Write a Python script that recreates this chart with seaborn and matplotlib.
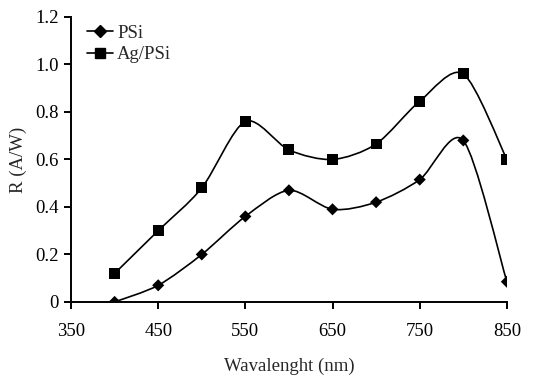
import numpy as np
import pandas as pd
import matplotlib
matplotlib.use("Agg")
import matplotlib.pyplot as plt
from matplotlib.path import Path
from matplotlib.patches import PathPatch
from matplotlib.lines import Line2D
import seaborn as sns

# data
wavelength = [400, 450, 500, 550, 600, 650, 700, 750, 800, 850]
psi = [0.0, 0.07, 0.20, 0.36, 0.47, 0.39, 0.42, 0.515, 0.68, 0.085]
ag_psi = [0.12, 0.30, 0.48, 0.76, 0.64, 0.60, 0.665, 0.845, 0.96, 0.60]
x_ticks = [350, 450, 550, 650, 750, 850]
y_ticks = [0, 0.2, 0.4, 0.6, 0.8, 1.0, 1.2]
y_labels = ["0", "0.2", "0.4", "0.6", "0.8", "1.0", "1.2"]

sns.set_style("ticks")
plt.rcParams["font.family"] = ["Liberation Serif", "DejaVu Serif"]
plt.rcParams["font.size"] = 13.5


def smooth_path(xs, ys, k=6.0):
    # Excel-style smoothed line: cubic bezier between points, catmull-rom control points
    pts = np.column_stack([xs, ys]).astype(float)
    n = len(pts)
    verts = [pts[0]]
    codes = [Path.MOVETO]
    for i in range(n - 1):
        p0 = pts[i - 1] if i > 0 else pts[i]
        p1 = pts[i]
        p2 = pts[i + 1]
        p3 = pts[i + 2] if i + 2 < n else pts[i + 1]
        c1 = p1 + (p2 - p0) / k
        c2 = p2 - (p3 - p1) / k
        verts += [c1, c2, p2]
        codes += [Path.CURVE4] * 3
    return Path(verts, codes)


df = pd.DataFrame({
    "wavelength": wavelength * 2,
    "R": psi + ag_psi,
    "series": ["PSi"] * len(psi) + ["Ag/PSi"] * len(ag_psi),
})

fig = plt.figure(figsize=(5.57, 3.76), dpi=100)
ax = fig.add_axes([0.1275, 0.197, 0.7825, 0.758])

for vals in (psi, ag_psi):
    ax.add_patch(PathPatch(smooth_path(wavelength, vals, 7.0), facecolor="none",
                           edgecolor="black", lw=1.2, zorder=2))

sns.scatterplot(data=df, x="wavelength", y="R", style="series",
                markers={"PSi": "D", "Ag/PSi": "s"},
                size="series", sizes={"PSi": 38, "Ag/PSi": 62},
                color="black", edgecolor="black", linewidth=0,
                legend=False, ax=ax, zorder=3)

ax.set_xlim(350, 850)
ax.set_ylim(0, 1.2)
ax.set_xticks(x_ticks)
ax.set_yticks(y_ticks)
ax.set_yticklabels(y_labels)
ax.set_xlabel("Wavalenght (nm)", labelpad=13)
ax.set_ylabel("R (A/W)", labelpad=6)
sns.despine(ax=ax)
for s in ("left", "bottom"):
    ax.spines[s].set_linewidth(1.4)
    ax.spines[s].set_color("black")
    ax.spines[s].set_clip_on(False)
ax.tick_params(direction="out", length=5, width=1.4, colors="black", pad=4)
ax.tick_params(axis="x", pad=10)

handles = [
    Line2D([], [], color="black", lw=1.2, marker="D", markersize=6),
    Line2D([], [], color="black", lw=1.2, marker="s", markersize=7.5),
]
ax.legend(handles, ["PSi", "Ag/PSi"], loc="upper left", bbox_to_anchor=(0.02, 1.0),
          frameon=False, handlelength=1.4, handletextpad=0.2, labelspacing=0.25,
          borderaxespad=0)

fig.savefig("out.png", dpi=100)
